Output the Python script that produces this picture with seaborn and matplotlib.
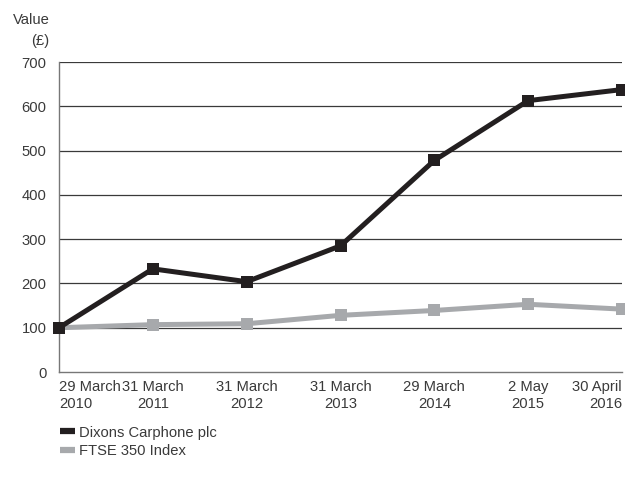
import matplotlib
matplotlib.use("Agg")
import matplotlib.pyplot as plt
import seaborn as sns
import pandas as pd
from matplotlib.lines import Line2D

dates = ["29 March\n2010", "31 March\n2011", "31 March\n2012", "31 March\n2013",
         "29 March\n2014", "2 May\n2015", "30 April\n2016"]
dixons = [100, 233, 204, 285, 478, 613, 638]
ftse = [100, 107, 109, 128, 139, 153, 142]
series_names = ["Dixons Carphone plc", "FTSE 350 Index"]
yticks = [0, 100, 200, 300, 400, 500, 600, 700]

sns.set_theme(style="white")
plt.rcParams['font.family'] = ['Liberation Sans', 'DejaVu Sans']
text_color = "#3a3a3a"
fs = 10.6

df = pd.DataFrame({
    "pos": list(range(len(dates))) * 2,
    "value": dixons + ftse,
    "series": [series_names[0]] * len(dates) + [series_names[1]] * len(dates),
})

fig = plt.figure(figsize=(6.25, 4.88), dpi=100)
ax = fig.add_axes([0.0944, 0.2377, 0.9008, 0.635])

palette = {series_names[0]: "#231f20", series_names[1]: "#a7a9ac"}
sns.lineplot(data=df, x="pos", y="value", hue="series", hue_order=series_names[::-1],
             palette=palette, marker="s", markersize=9, markeredgewidth=0,
             linewidth=3.6, ax=ax, legend=False, clip_on=False, zorder=3)

ax.set_xlim(0, len(dates) - 1)
ax.set_ylim(0, 700)
ax.set_yticks(yticks)
ax.set_yticklabels([str(v) for v in yticks], color=text_color, fontsize=fs)
for v in yticks[1:]:
    ax.axhline(v, color="#3a3a3a", lw=0.9, zorder=1)

ax.set_xticks(range(len(dates)))
ax.set_xticklabels(dates, color=text_color, fontsize=fs, linespacing=1.2)
labels = ax.get_xticklabels()
labels[0].set_ha("left")
labels[-1].set_ha("right")
ax.tick_params(axis="x", direction="in", length=6, width=0.8, color="#666666", pad=6)
ax.tick_params(axis="y", length=0, pad=9)
ax.set_xlabel("")
ax.set_ylabel("")

for s in ["top", "right"]:
    ax.spines[s].set_visible(False)
for s in ["left", "bottom"]:
    ax.spines[s].set_color("#777777")
    ax.spines[s].set_linewidth(1.0)

fig.text(0.079, 0.958, "Value", ha="right", va="center", fontsize=fs, color=text_color)
fig.text(0.079, 0.917, "(£)", ha="right", va="center", fontsize=fs, color=text_color)

handles = [Line2D([0], [0], color=palette[n], lw=4.5, solid_capstyle="butt") for n in series_names]
fig.legend(handles, series_names, loc="upper left", bbox_to_anchor=(0.096, 0.128),
           frameon=False, handlelength=1.0, handletextpad=0.3, labelspacing=0.3,
           fontsize=fs, labelcolor=text_color, borderpad=0, borderaxespad=0)

fig.savefig("out.png", dpi=100)
